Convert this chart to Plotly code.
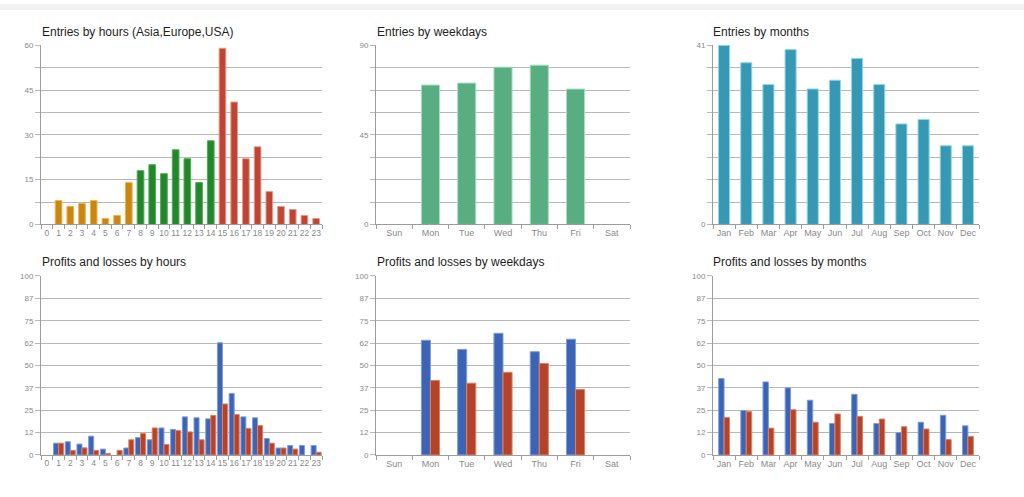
import plotly.graph_objects as go

# ---------------- data ----------------
hours = [str(h) for h in range(24)]
hour_entries = [None, 8, 6, 7, 8, 2, 3, 14, 18, 20, 17, 25, 22, 14, 28, 59, 41, 22, 26, 11, 6, 5, 3, 2]
hour_session = ["Asia"] * 8 + ["Europe"] * 7 + ["USA"] * 9
hour_profits = [None, 6.6, 7.4, 6.1, 10.5, 3.3, None, 3.9, 9.7, 8.5, 15.1, 14.3, 21.3, 20.8, 20.2,
                62.7, 34.4, 21.3, 20.8, 9.2, 3.9, 5.3, 5.3, 5.3]
hour_losses = [None, 6.6, 2.6, 4.0, 2.6, 0.9, 2.6, 8.5, 12.1, 15.1, 5.9, 13.6, 12.9, 8.5, 22.1,
               28.5, 22.6, 14.9, 16.4, 6.6, 3.9, 3.3, None, 1.5]

weekdays = ["Sun", "Mon", "Tue", "Wed", "Thu", "Fri", "Sat"]
weekday_entries = [None, 70, 71, 79, 80, 68, None]
weekday_profits = [None, 64.1, 59.0, 68.0, 57.7, 64.7, None]
weekday_losses = [None, 41.6, 40.1, 46.2, 51.1, 36.6, None]

months = ["Jan", "Feb", "Mar", "Apr", "May", "Jun", "Jul", "Aug", "Sep", "Oct", "Nov", "Dec"]
month_entries = [41, 37, 32, 40, 31, 33, 38, 32, 23, 24, 18, 18]
month_profits = [42.7, 24.9, 40.8, 37.5, 30.6, 17.6, 33.9, 17.6, 12.5, 18.3, 22.2, 16.3]
month_losses = [20.9, 24.2, 15.0, 25.3, 18.3, 22.9, 21.6, 20.1, 15.8, 14.5, 8.6, 10.4]

hour_entry_ticks = ["0", "", "15", "", "30", "", "45", "", "60"]
weekday_entry_ticks = ["0", "", "", "", "45", "", "", "", "90"]
month_entry_ticks = ["0", "", "", "", "", "", "", "", "41"]
pl_ticks = ["0", "12", "25", "37", "50", "62", "75", "87", "100"]

titles = ["Entries by hours (Asia,Europe,USA)", "Entries by weekdays", "Entries by months",
          "Profits and losses by hours", "Profits and losses by weekdays", "Profits and losses by months"]

# ---------------- style ----------------
W, H = 1024, 497
session_fill = {"Asia": "#c98615", "Europe": "#23862f", "USA": "#be4536"}
session_line = {"Asia": "#f2b440", "Europe": "#4cb04c", "USA": "#e89a8a"}
BLUE, BLUE_L = "#3d64b4", "#7d9ee0"
RED, RED_L = "#b5432a", "#e0805f"
WK_GREEN, WK_GREEN_L = "#58ad81", "#a6e0c0"
TEAL, TEAL_L = "#3798b3", "#8fd8ea"

GRID = "#b8b8b8"
AXIS = "#9c9c9c"
TICKF = "#8a8a8a"
FONT = "Liberation Sans, Arial, sans-serif"

cols = [(41, 322), (376, 630), (713, 979)]
rows = [(42, 224.5), (277, 459.3)]


def xdom(c):
    return [cols[c][0] / W, cols[c][1] / W]


def ydom(r):
    return [1 - rows[r][1] / H, 1 - rows[r][0] / H]


fig = go.Figure()

# chart 1: entries by hours
fig.add_trace(go.Bar(
    x=hours, y=hour_entries, xaxis="x", yaxis="y", width=0.57,
    marker=dict(color=[session_fill[s] for s in hour_session],
                line=dict(color=[session_line[s] for s in hour_session], width=1)),
    showlegend=False))

# chart 2: entries by weekdays
fig.add_trace(go.Bar(
    x=weekdays, y=weekday_entries, xaxis="x2", yaxis="y2", width=0.5,
    marker=dict(color=WK_GREEN, line=dict(color=WK_GREEN_L, width=1)), showlegend=False))

# chart 3: entries by months
fig.add_trace(go.Bar(
    x=months, y=month_entries, xaxis="x3", yaxis="y3", width=0.5,
    marker=dict(color=TEAL, line=dict(color=TEAL_L, width=1)), showlegend=False))

# charts 4-6: profits and losses
for xs, prof, loss, ax, w in [(hours, hour_profits, hour_losses, "4", 0.43),
                              (weekdays, weekday_profits, weekday_losses, "5", 0.25),
                              (months, month_profits, month_losses, "6", 0.245)]:
    fig.add_trace(go.Bar(x=xs, y=prof, xaxis="x" + ax, yaxis="y" + ax, width=w, offset=-w,
                         marker=dict(color=BLUE, line=dict(color=BLUE_L, width=1)),
                         name="Profits", showlegend=False))
    fig.add_trace(go.Bar(x=xs, y=loss, xaxis="x" + ax, yaxis="y" + ax, width=w, offset=0,
                         marker=dict(color=RED, line=dict(color=RED_L, width=1)),
                         name="Losses", showlegend=False))


def xaxis(c, anchor, cats, size):
    return dict(domain=xdom(c), anchor=anchor, type="category",
                categoryorder="array", categoryarray=cats,
                range=[-0.5, len(cats) - 0.5],
                showline=True, linecolor=AXIS, linewidth=1,
                ticks="outside", tickson="boundaries", ticklen=4, tickcolor=AXIS,
                tickangle=0,
                tickfont=dict(size=size, color=TICKF, family=FONT),
                showgrid=False, zeroline=False, fixedrange=True)


def yaxis(r, anchor, top, ticktext):
    n = len(ticktext) - 1
    return dict(domain=ydom(r), anchor=anchor, range=[0, top],
                tickmode="array", tickvals=[top * i / n for i in range(n + 1)], ticktext=ticktext,
                showgrid=True, gridcolor=GRID, gridwidth=1,
                showline=True, linecolor=AXIS, linewidth=1,
                ticks="outside", ticklen=5, tickcolor=GRID,
                tickfont=dict(size=8, color=TICKF, family=FONT),
                zeroline=False, fixedrange=True)


layout = dict(
    width=W, height=H, margin=dict(l=0, r=0, t=0, b=0),
    paper_bgcolor="white", plot_bgcolor="white",
    barmode="overlay", showlegend=False,
    font=dict(family=FONT),
)
layout["xaxis"] = xaxis(0, "y", hours, 8.5)
layout["yaxis"] = yaxis(0, "x", 60, hour_entry_ticks)
layout["xaxis2"] = xaxis(1, "y2", weekdays, 9)
layout["yaxis2"] = yaxis(0, "x2", 90, weekday_entry_ticks)
layout["xaxis3"] = xaxis(2, "y3", months, 9)
layout["yaxis3"] = yaxis(0, "x3", 41, month_entry_ticks)
layout["xaxis4"] = xaxis(0, "y4", hours, 8.5)
layout["yaxis4"] = yaxis(1, "x4", 100, pl_ticks)
layout["xaxis5"] = xaxis(1, "y5", weekdays, 9)
layout["yaxis5"] = yaxis(1, "x5", 100, pl_ticks)
layout["xaxis6"] = xaxis(2, "y6", months, 9)
layout["yaxis6"] = yaxis(1, "x6", 100, pl_ticks)
fig.update_layout(**layout)

title_x = [40, 375, 711]
title_y = [29, 263]
for i, t in enumerate(titles):
    r, c = divmod(i, 3)
    fig.add_annotation(text=t, xref="paper", yref="paper",
                       x=title_x[c] / W, y=1 - title_y[r] / H,
                       xanchor="left", yanchor="middle", showarrow=False,
                       font=dict(size=12, color="#1e1e1e", family=FONT))

fig.add_shape(type="rect", xref="paper", yref="paper", x0=0, x1=1, y0=1 - 6 / H, y1=1,
              fillcolor="#f2f2f2", line=dict(width=0), layer="below")

fig.write_html("out.html", config={"displayModeBar": False})

# remove the default page margin so the figure sits at the window's top-left corner
with open("out.html", "r", encoding="utf-8") as f:
    html = f.read()
html = html.replace("<head>", "<head><style>html,body{margin:0;padding:0;overflow:hidden;}</style>", 1)
with open("out.html", "w", encoding="utf-8") as f:
    f.write(html)
